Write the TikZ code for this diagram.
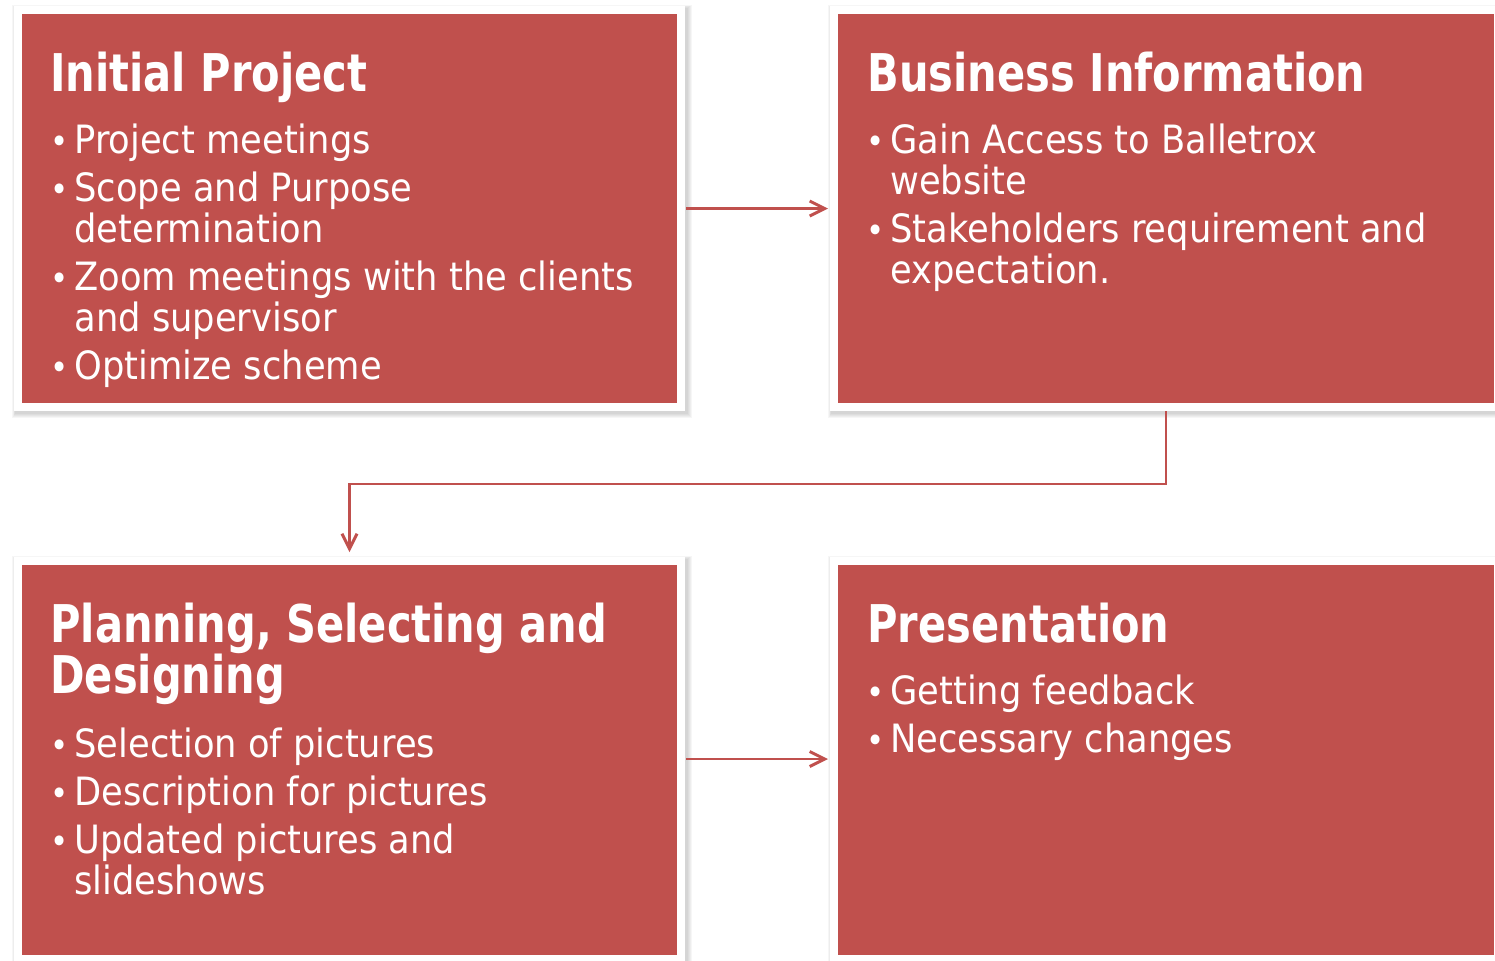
\documentclass[tikz,border=0pt]{standalone}
\usepackage{fontspec}
\setmainfont{DejaVu Sans}[FakeStretch=0.905]
\newfontfamily\titlefont{DejaVu Sans}[FakeStretch=0.80]
\usetikzlibrary{arrows.meta,backgrounds}
\definecolor{boxred}{HTML}{C0504D}
\tikzset{
  frame/.style={fill=white, draw=none, inner sep=0, outer sep=0, minimum width=#1*0.5pt},
  redbox/.style={fill=boxred, draw=none, inner sep=0, outer sep=0},
  ttl/.style={anchor=base west, inner sep=0, text=white, font=\titlefont\bfseries\fontsize{26}{31}\selectfont},
  itm/.style={anchor=base west, inner sep=0, text=white, font=\fontsize{19.5}{24}\selectfont},
  bul/.style={anchor=base west, inner sep=0, text=white, font=\fontsize{17}{24}\selectfont},
  conn/.style={draw=boxred, line width=1.1pt, -{Straight Barb[length=7.5pt,width=7.5pt,line width=1.5pt]}}
}
\begin{document}
\begin{tikzpicture}[x=0.5pt,y=-0.5pt]
\useasboundingbox (0,0) rectangle (1495,960);
% frames
\node[frame=671, minimum height=202.5pt] (ftl) at (349.5,208.5) {};
\node[frame=672, minimum height=202.5pt] (ftr) at (1166,208.5) {};
\node[frame=671, minimum height=203pt] (fbl) at (349.5,760) {};
\node[frame=672, minimum height=203pt] (fbr) at (1166,760) {};
\begin{pgfonlayer}{background}
\foreach \f in {ftl,ftr,fbl,fbr}{
  \foreach \i in {1,...,5}{
    \fill[black, opacity=0.035] ([shift={(-\i*0.35pt+0.8pt,\i*0.35pt-1.2pt)}]\f.north west) rectangle ([shift={(\i*0.5pt+0.8pt,-\i*0.5pt-1.2pt)}]\f.south east);
  }
}
\end{pgfonlayer}
% red boxes
\node[redbox, minimum width=327.5pt, minimum height=194.5pt] (rtl) at (349.5,208.5) {};
\node[redbox, minimum width=328pt, minimum height=194.5pt] (rtr) at (1166,208.5) {};
\node[redbox, minimum width=327.5pt, minimum height=195pt] (rbl) at (349.5,760) {};
\node[redbox, minimum width=328pt, minimum height=195pt] (rbr) at (1166,760) {};
% texts: top left
\node[ttl] (tlt) at (50,91) {Initial Project};
\node[bul] (tlb1) at (50,153) {•};
\node[itm] (tl1) at (74,153) {Project meetings};
\node[bul] (tlb2) at (50,201) {•};
\node[itm] (tl2) at (74,201) {Scope and Purpose};
\node[itm] (tl3) at (74,242) {determination};
\node[bul] (tlb3) at (50,290) {•};
\node[itm] (tl4) at (74,290) {Zoom meetings with the clients};
\node[itm] (tl5) at (74,331) {and supervisor};
\node[bul] (tlb4) at (50,379) {•};
\node[itm] (tl6) at (74,379) {Optimize scheme};
% top right
\node[ttl] (trt) at (867,91) {Business Information};
\node[bul] (trb1) at (866,153) {•};
\node[itm] (tr1) at (890,153) {Gain Access to Balletrox};
\node[itm] (tr2) at (890,194) {website};
\node[bul] (trb2) at (866,242) {•};
\node[itm] (tr3) at (890,242) {Stakeholders requirement and};
\node[itm] (tr4) at (890,283) {expectation.};
% bottom left
\node[ttl] (blt1) at (50,642) {Planning, Selecting and};
\node[ttl] (blt2) at (50,693) {Designing};
\node[bul] (blb1) at (50,757) {•};
\node[itm] (bl1) at (74,757) {Selection of pictures};
\node[bul] (blb2) at (50,805) {•};
\node[itm] (bl2) at (74,805) {Description for pictures};
\node[bul] (blb3) at (50,853) {•};
\node[itm] (bl3) at (74,853) {Updated pictures and};
\node[itm] (bl4) at (74,894) {slideshows};
% bottom right
\node[ttl] (brt) at (867,642) {Presentation};
\node[bul] (brb1) at (866,704) {•};
\node[itm] (br1) at (890,704) {Getting feedback};
\node[bul] (brb2) at (866,752) {•};
\node[itm] (br2) at (890,752) {Necessary changes};
% connectors
\draw[conn, shorten <=0.5pt, shorten >=1pt] (ftl.east) -- (ftr.west);
\draw[conn, shorten <=0.5pt, shorten >=1pt] (fbl.east |- 0,759) -- (fbr.west |- 0,759);
\coordinate (bend) at (1166,484);
\draw[conn, shorten >=2.5pt] (ftr.south) -- (bend) -| (fbl.north);
\end{tikzpicture}
\end{document}
